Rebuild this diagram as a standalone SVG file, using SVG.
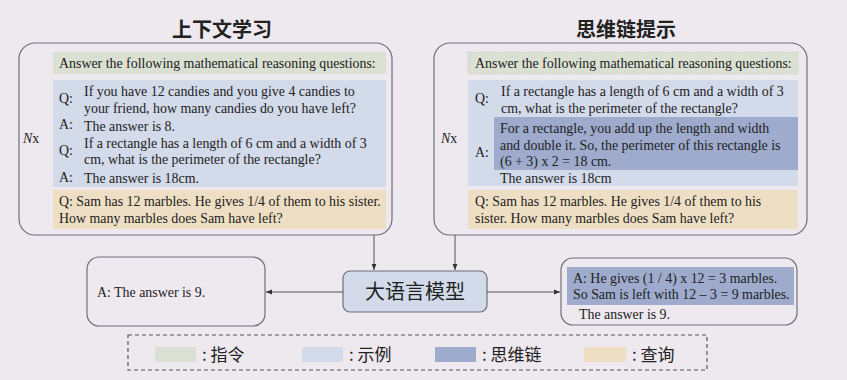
<svg xmlns="http://www.w3.org/2000/svg" width="847" height="380" viewBox="0 0 847 380">
<defs>
<style>
.t{font-family:"Liberation Serif","Times New Roman",serif;font-size:13.9px;fill:#222}
.title{font-family:"Noto Sans CJK SC",sans-serif;font-size:20px;font-weight:bold;fill:#222}
.cjk{font-family:"Noto Sans CJK SC",sans-serif;fill:#222}
.panel{fill:none;stroke:#6e6e78;stroke-width:1.2}
.green{fill:#dbe1d2}
.blue{fill:#d3daea}
.dblue{fill:#9eabcd}
.orange{fill:#eedfc4}
.conn{stroke:#555;stroke-width:1;fill:none}
</style>
<marker id="ah" viewBox="0 0 10 10" refX="10" refY="5" markerWidth="6" markerHeight="6" orient="auto"><path d="M0,1 L10,5 L0,9 z" fill="#333"/></marker>
</defs>
<rect width="847" height="380" fill="#eee9ef"/>

<g id="icl">
<text class="title" x="222" y="37" text-anchor="middle">上下文学习</text>
<rect class="panel" x="19" y="43" width="373" height="192" rx="16"/>
<text class="t" x="23" y="143"><tspan font-style="italic">N</tspan>x</text>
<rect class="green" x="53" y="52" width="333" height="22"/>
<text class="t" x="59" y="68">Answer the following mathematical reasoning questions:</text>
<rect class="blue" x="53" y="80" width="333" height="107"/>
<text class="t" x="59" y="103">Q:</text>
<text class="t" x="84" y="96">If you have 12 candies and you give 4 candies to</text>
<text class="t" x="84" y="113">your friend, how many candies do you have left?</text>
<text class="t" x="59" y="129">A:</text>
<text class="t" x="84" y="131">The answer is 8.</text>
<text class="t" x="59" y="155">Q:</text>
<text class="t" x="84" y="148">If a rectangle has a length of 6 cm and a width of 3</text>
<text class="t" x="84" y="164">cm, what is the perimeter of the rectangle?</text>
<text class="t" x="59" y="182">A:</text>
<text class="t" x="84" y="183">The answer is 18cm.</text>
<rect class="orange" x="53" y="190" width="333" height="39"/>
<text class="t" x="59" y="206">Q: Sam has 12 marbles. He gives 1/4 of them to his sister.</text>
<text class="t" x="59" y="223">How many marbles does Sam have left?</text>
</g>

<g id="cot">
<text class="title" x="626" y="37" text-anchor="middle">思维链提示</text>
<rect class="panel" x="434" y="43" width="373" height="192" rx="16"/>
<text class="t" x="441" y="143"><tspan font-style="italic">N</tspan>x</text>
<rect class="green" x="468" y="52" width="330" height="22" stroke="#b8c0b0" stroke-width="0.6" stroke-dasharray="1.5,1.5"/>
<text class="t" x="475" y="68">Answer the following mathematical reasoning questions:</text>
<rect class="blue" x="468" y="80" width="330" height="106"/>
<text class="t" x="475" y="103">Q:</text>
<text class="t" x="501" y="96">If a rectangle has a length of 6 cm and a width of 3</text>
<text class="t" x="501" y="113">cm, what is the perimeter of the rectangle?</text>
<rect class="dblue" x="494" y="117" width="304" height="53"/>
<text class="t" x="475" y="157">A:</text>
<text class="t" x="500" y="133">For a rectangle, you add up the length and width</text>
<text class="t" x="500" y="150">and double it. So, the perimeter of this rectangle is</text>
<text class="t" x="500" y="166">(6 + 3) x 2 = 18 cm.</text>
<text class="t" x="500" y="183">The answer is 18cm</text>
<rect class="orange" x="468" y="190" width="330" height="39"/>
<text class="t" x="475" y="206">Q: Sam has 12 marbles. He gives 1/4 of them to his</text>
<text class="t" x="475" y="223">sister. How many marbles does Sam have left?</text>
</g>

<g id="llm">
<rect x="343" y="271" width="144" height="41" rx="7" fill="#d3dbea" stroke="#6e6e78" stroke-width="1.2"/>
<text class="cjk" x="415" y="299" font-size="20" text-anchor="middle">大语言模型</text>
</g>

<g id="out-icl">
<rect class="panel" x="87" y="257" width="178" height="69" rx="12"/>
<text class="t" x="97" y="297" font-size="13">A: The answer is 9.</text>
</g>

<g id="out-cot">
<rect class="panel" x="561" y="258" width="236" height="67" rx="12"/>
<rect class="dblue" x="567" y="267" width="227" height="38"/>
<text class="t" x="573" y="283">A: He gives (1 / 4) x 12 = 3 marbles.</text>
<text class="t" x="573" y="299">So Sam is left with 12 – 3 = 9 marbles.</text>
<text class="t" x="579" y="319">The answer is 9.</text>
</g>

<g id="connectors">
<line class="conn" x1="374" y1="235" x2="374" y2="270" marker-end="url(#ah)"/>
<line class="conn" x1="455" y1="235" x2="455" y2="270" marker-end="url(#ah)"/>
<line class="conn" x1="343" y1="292" x2="266" y2="292" marker-end="url(#ah)"/>
<line class="conn" x1="487" y1="292" x2="560" y2="292" marker-end="url(#ah)"/>
</g>

<g id="legend">
<rect x="128" y="335" width="579" height="35" fill="none" stroke="#555" stroke-width="1.2" stroke-dasharray="4,3"/>
<rect class="green" x="155" y="347" width="41" height="15"/>
<text class="cjk" x="202" y="361" font-size="17">: 指令</text>
<rect class="blue" x="302" y="347" width="41" height="15"/>
<text class="cjk" x="349" y="361" font-size="17">: 示例</text>
<rect class="dblue" x="435" y="347" width="41" height="15"/>
<text class="cjk" x="482" y="361" font-size="17">: 思维链</text>
<rect class="orange" x="584" y="347" width="42" height="15"/>
<text class="cjk" x="632" y="361" font-size="17">: 查询</text>
</g>
</svg>
